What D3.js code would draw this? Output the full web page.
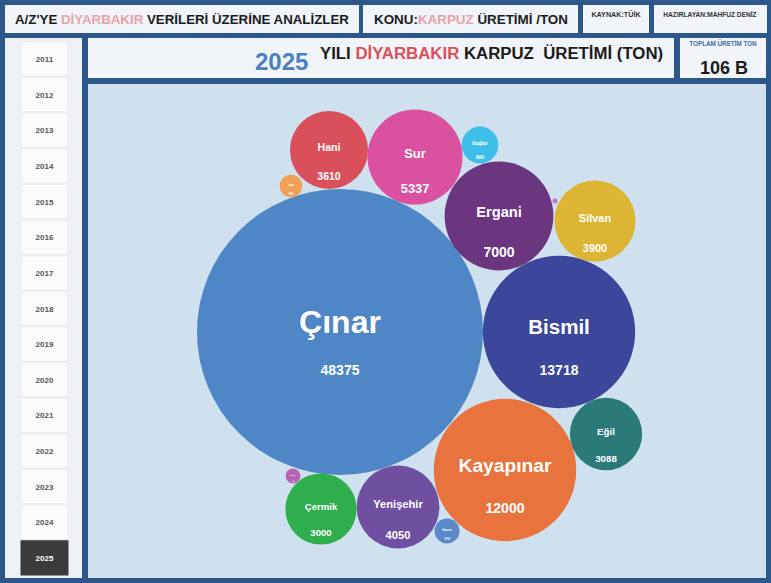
<!DOCTYPE html>
<html>
<head>
<meta charset="utf-8">
<script src="https://cdn.jsdelivr.net/npm/d3@7/dist/d3.min.js"></script>
<style>
  body { margin: 0; background: #2c5889; }
  svg { display: block; font-family: "Liberation Sans", Arial, sans-serif; }
</style>
</head>
<body>
<svg id="dash" width="771" height="583"></svg>
<script>

// values
let years = [2011, 2012, 2013, 2014, 2015, 2016, 2017, 2018, 2019, 2020, 2021, 2022, 2023, 2024, 2025];
let selectedYear = 2025;
let districts = ["Çınar", "Bismil", "Kayapınar", "Ergani", "Sur", "Yenişehir", "Silvan", "Hani", "Eğil", "Çermik", "Bağlar", "Hazro", "Lice", "Dicle", "Kulp"];
let production = [48375, 13718, 12000, 7000, 5337, 4050, 3900, 3610, 3088, 3000, 800, 370, 300, 130, 15];

// where each bubble sits inside the chart panel (panel pixels)
let bubbleX = [252, 471, 417, 411, 327, 310, 507, 241, 518, 233, 392, 359, 203, 205, 467];
let bubbleY = [248, 248, 386, 132, 73, 423, 137, 66, 350, 425, 61, 447, 102, 392, 117];
let palette = ["#4f86c6", "#3b479a", "#e8733c", "#6b3580", "#d9519f", "#6f4f9f", "#ddb535", "#d9505b", "#2b7a7a", "#2fae4e", "#3dbfe9", "#5b89c8", "#f2a056", "#b564b4", "#c674c8"];

let svg = d3.select("svg#dash");
let boxFill = "#f1f4f8";

// ---------- header row ----------
let header = [
  { x: 5, w: 354 }, { x: 363, w: 215 }, { x: 583, w: 66 }, { x: 654, w: 113 }
];
header.forEach(function(b) {
  svg.append("rect").attr("x", b.x).attr("y", 5).attr("width", b.w).attr("height", 28).attr("fill", boxFill);
});

let h1 = svg.append("text").attr("x", 15).attr("y", 24).attr("font-size", 13.3).attr("font-weight", "bold").attr("fill", "#1b1b1b");
h1.append("tspan").text("A/Z'YE ");
h1.append("tspan").attr("fill", "#eaa1ab").text("DİYARBAKIR");
h1.append("tspan").text(" VERİLERİ ÜZERİNE ANALİZLER");

let h2 = svg.append("text").attr("x", 374).attr("y", 24).attr("font-size", 13.4).attr("font-weight", "bold").attr("fill", "#1b1b1b");
h2.append("tspan").text("KONU:");
h2.append("tspan").attr("fill", "#eaa1ab").text("KARPUZ");
h2.append("tspan").text(" ÜRETİMİ /TON");

svg.append("text").attr("x", 616).attr("y", 17).attr("text-anchor", "middle")
  .attr("font-size", 7.2).attr("font-weight", "bold").attr("fill", "#333").text("KAYNAK:TÜİK");
svg.append("text").attr("x", 710).attr("y", 17).attr("text-anchor", "middle")
  .attr("font-size", 6.6).attr("font-weight", "bold").attr("fill", "#333").text("HAZIRLAYAN:MAHFUZ DENİZ");

// ---------- sidebar ----------
svg.append("rect").attr("x", 5).attr("y", 38).attr("width", 77).attr("height", 540).attr("fill", "#eef1f6");

let yearScale = d3.scaleBand().domain(years).range([42, 575]).paddingInner(0.04);

let buttons = svg.append("g").selectAll("g").data(years).join("g");
buttons.append("rect")
  .attr("x", 21).attr("y", d => yearScale(d))
  .attr("width", 47).attr("height", yearScale.bandwidth())
  .attr("fill", d => d == selectedYear ? "#3b3b3b" : "#fbfbfc")
  .attr("stroke", d => d == selectedYear ? "#3b3b3b" : "#e9ecf1");
buttons.append("text")
  .attr("x", 44.5).attr("y", d => yearScale(d) + yearScale.bandwidth() / 2 + 3)
  .attr("text-anchor", "middle").attr("font-size", 8).attr("font-weight", "bold")
  .attr("fill", d => d == selectedYear ? "#ffffff" : "#555")
  .text(d => d);

// ---------- title row ----------
svg.append("rect").attr("x", 88).attr("y", 38).attr("width", 586).attr("height", 40).attr("fill", boxFill);
svg.append("rect").attr("x", 680).attr("y", 38).attr("width", 86).attr("height", 40).attr("fill", boxFill);

svg.append("text").attr("x", 255).attr("y", 70).attr("font-size", 24).attr("font-weight", "bold")
  .attr("fill", "#4a7fc0").text(selectedYear);
let t = svg.append("text").attr("x", 320).attr("y", 59).attr("font-size", 16.8).attr("font-weight", "bold")
  .attr("fill", "#1b1b1b").style("white-space", "pre");
t.append("tspan").text("YILI ");
t.append("tspan").attr("fill", "#d9505b").text("DİYARBAKIR");
t.append("tspan").text(" KARPUZ  ÜRETİMİ (TON)");

let total = d3.sum(production);
svg.append("text").attr("x", 723).attr("y", 46).attr("text-anchor", "middle")
  .attr("font-size", 6.3).attr("font-weight", "bold").attr("fill", "#3a6ea8").text("TOPLAM ÜRETİM TON");
svg.append("text").attr("x", 724).attr("y", 74).attr("text-anchor", "middle")
  .attr("font-size", 18).attr("font-weight", "bold").attr("fill", "#1b1b1b")
  .text(Math.round(total / 1000) + " B");

// ---------- bubble panel ----------
let panel = { x: 88, y: 84, w: 678, h: 494 };
svg.append("rect").attr("x", panel.x).attr("y", panel.y).attr("width", panel.w).attr("height", panel.h).attr("fill", "#cfe1ef");

let xScale = d3.scaleLinear().domain([0, panel.w]).range([panel.x, panel.x + panel.w]);
let yScale = d3.scaleLinear().domain([0, panel.h]).range([panel.y, panel.y + panel.h]);
let rScale = d3.scaleSqrt().domain([0, d3.max(production)]).range([0, 143]);
let cScale = d3.scaleOrdinal().domain(districts).range(palette);

let rows = districts.map(function(name, i) {
  return { name: name, value: production[i], px: bubbleX[i], py: bubbleY[i] };
});

let bubbles = svg.append("g").selectAll("g").data(rows).join("g")
  .attr("transform", d => "translate(" + xScale(d.px) + "," + yScale(d.py) + ")");

bubbles.append("circle")
  .attr("r", d => rScale(d.value))
  .attr("fill", d => cScale(d.name));

bubbles.append("text")
  .attr("text-anchor", "middle").attr("dominant-baseline", "central")
  .attr("y", d => -Math.min(rScale(d.value) * 0.07, 10))
  .attr("font-size", d => Math.min(rScale(d.value) * 0.27, 32))
  .attr("font-weight", "bold").attr("fill", "#ffffff")
  .text(d => d.name);

bubbles.append("text")
  .attr("text-anchor", "middle").attr("dominant-baseline", "central")
  .attr("y", d => Math.min(rScale(d.value) * 0.67, 38))
  .attr("font-size", d => Math.min(rScale(d.value) * 0.27, 14))
  .attr("font-weight", "bold").attr("fill", "#ffffff")
  .text(d => d.value);

</script>
</body>
</html>
